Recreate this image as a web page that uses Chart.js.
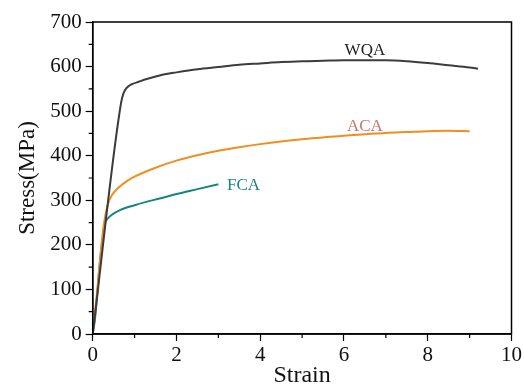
<!DOCTYPE html>
<html><head><meta charset="utf-8">
<script src="https://cdn.jsdelivr.net/npm/chart.js@4"></script>
<style>html,body{margin:0;padding:0;background:#fff}#wrap{width:524px;height:390px}</style>
</head><body><div id="wrap"><canvas id="c" width="524" height="390"></canvas></div>
<script>
const xTicks = [0, 2, 4, 6, 8, 10];
const yTicks = [0, 100, 200, 300, 400, 500, 600, 700];
const seriesNames = ['WQA', 'ACA', 'FCA'];
const wqaStrain = [0,0.68,0.74,0.8,0.87,0.95,1.1,1.29,1.69,2,2.5,3,3.5,4,4.5,5,5.5,6,6.5,7,7.5,8,8.5,9,9.2];
const wqaStress = [0,520,541,551,557,561,566,572,582,587,594,599,604,607,610,612,613,614,614,614,612,608,603,598,595];
const acaStrain = [0,0.1,0.2,0.25,0.3,0.37,0.45,0.6,0.8,1,1.5,2,2.5,3,3.5,4,4.5,5,5.5,6,6.5,7,7.5,8,8.5,9];
const acaStress = [0,90,190,235,265,293,310,327,342,353,373,389,401,411,419,426,432,437,441,445,448,451,453,455,456,455];
const fcaStrain = [0,0.05,0.1,0.17,0.25,0.3,0.35,0.45,0.65,1,1.3,1.6,2,2.5,3];
const fcaStress = [0,30,80,160,225,250,258,267,278,289,297,304,314,325,336];
const labelPos = [[6.5, 637], [6.5, 465], [3.6, 333]];

const pts = (xs, ys) => xs.map((x, i) => ({x, y: ys[i]}));
const colors = ['#3c3c3c', '#ef8e22', '#16857f'];
const labelColors = ['#222222', '#c9766e', '#16857f'];
const FONT = "'Liberation Serif', 'Times New Roman', serif";

const framePlugin = {
  id: 'frame',
  afterDraw(chart) {
    const {ctx, chartArea: a, scales: {x, y}} = chart;
    ctx.save();
    ctx.strokeStyle = '#000';
    ctx.lineWidth = 1.5;
    ctx.strokeRect(a.left, a.top, a.right - a.left, a.bottom - a.top);
    ctx.lineWidth = 1.2;
    ctx.beginPath();
    for (let v = 50; v < 700; v += 100) {
      const py = y.getPixelForValue(v);
      ctx.moveTo(a.left - 4, py); ctx.lineTo(a.left, py);
    }
    for (let v = 1; v < 10; v += 2) {
      const px = x.getPixelForValue(v);
      ctx.moveTo(px, a.bottom); ctx.lineTo(px, a.bottom + 4);
    }
    ctx.stroke();
    ctx.font = "17px " + FONT;
    ctx.textAlign = 'center';
    ctx.textBaseline = 'middle';
    seriesNames.forEach((n, i) => {
      ctx.fillStyle = labelColors[i];
      ctx.fillText(n, x.getPixelForValue(labelPos[i][0]), y.getPixelForValue(labelPos[i][1]));
    });
    ctx.restore();
  }
};

new Chart(document.getElementById('c'), {
  type: 'scatter',
  data: {
    datasets: [
      {label: 'WQA', data: pts(wqaStrain, wqaStress), borderColor: colors[0]},
      {label: 'ACA', data: pts(acaStrain, acaStress), borderColor: colors[1]},
      {label: 'FCA', data: pts(fcaStrain, fcaStress), borderColor: colors[2]}
    ].map(d => Object.assign(d, {showLine: true, pointRadius: 0, borderWidth: 2, cubicInterpolationMode: 'monotone'}))
  },
  options: {
    responsive: false,
    animation: false,
    layout: {padding: {top: 22, right: 12, left: 0, bottom: 0}},
    plugins: {legend: {display: false}, tooltip: {enabled: false}},
    scales: {
      x: {
        type: 'linear', min: 0, max: 10,
        afterBuildTicks: s => { s.ticks = xTicks.map(v => ({value: v})); },
        afterFit: s => { s.height = 56; },
        grid: {drawOnChartArea: false, drawTicks: true, tickLength: 7, color: '#000', tickColor: '#000', tickWidth: 1.2},
        border: {color: '#000', width: 1.5},
        ticks: {color: '#111', font: {family: FONT, size: 21}, padding: 2, maxRotation: 0},
        title: {display: true, text: 'Strain', color: '#111', font: {family: FONT, size: 24}, padding: {top: -5, bottom: 0}}
      },
      y: {
        type: 'linear', min: 0, max: 700,
        afterBuildTicks: s => { s.ticks = yTicks.map(v => ({value: v})); },
        afterFit: s => { s.width = 92.7; },
        grid: {drawOnChartArea: false, drawTicks: true, tickLength: 7, color: '#000', tickColor: '#000', tickWidth: 1.2},
        border: {color: '#000', width: 1.5},
        ticks: {color: '#111', font: {family: FONT, size: 21}, padding: 4},
        title: {display: true, text: 'Stress(MPa)', color: '#111', font: {family: FONT, size: 23}, padding: {top: 14, bottom: 0}}
      }
    }
  },
  plugins: [framePlugin]
});
</script></body></html>
